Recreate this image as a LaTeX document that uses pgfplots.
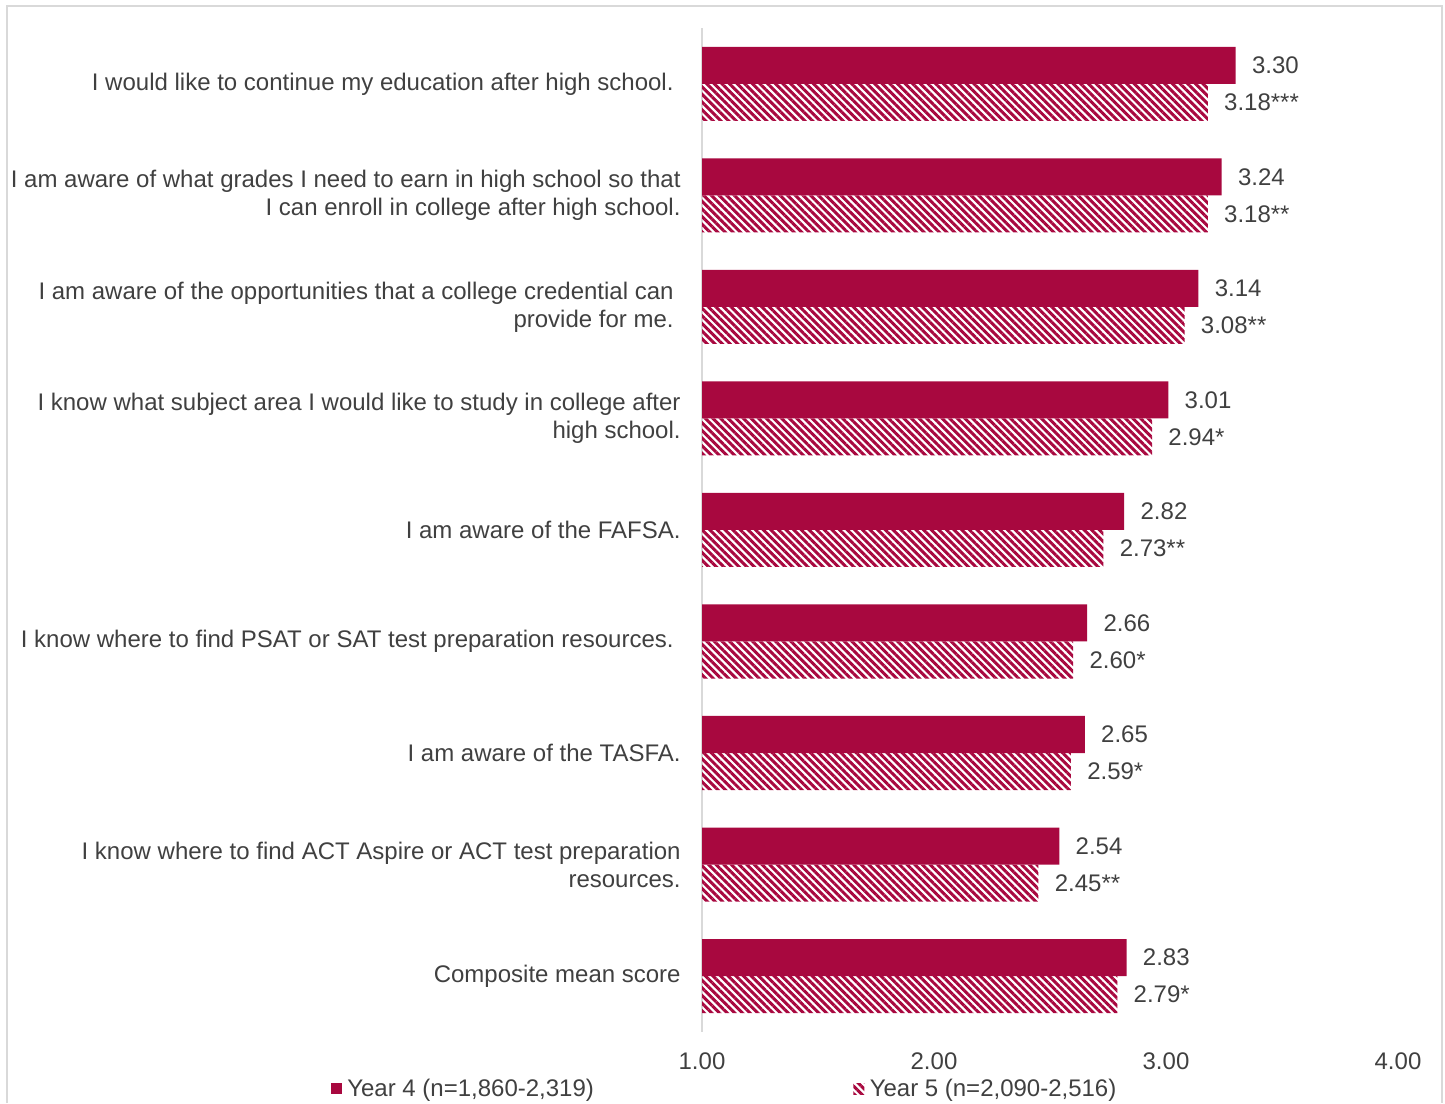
\documentclass[border=0pt]{standalone}
\usepackage{fontspec}
\setmainfont{Liberation Sans}
\usepackage{pgfplots}
\usepackage{pgfplotstable}
\pgfplotsset{compat=1.18}
\usetikzlibrary{patterns.meta}

\definecolor{barred}{HTML}{A8083F}
\definecolor{txtgray}{HTML}{404040}
\definecolor{linegray}{HTML}{D9D9D9}

\pgfplotstableread{
y  v4   l4    v5   l5
8  3.30 3.30  3.18 3.18***
7  3.24 3.24  3.18 3.18**
6  3.14 3.14  3.08 3.08**
5  3.01 3.01  2.94 2.94*
4  2.82 2.82  2.73 2.73**
3  2.66 2.66  2.60 2.60*
2  2.65 2.65  2.59 2.59*
1  2.54 2.54  2.45 2.45**
0  2.83 2.83  2.79 2.79*
}\scores

\begin{document}
\begin{tikzpicture}[font=\fontsize{12}{14}\selectfont]
  % frame of the original figure
  \draw[linegray, line width=1pt] (3.5pt,0pt) -- (3.5pt,548.5pt) -- (721pt,548.5pt) -- (721pt,0pt);
  \begin{axis}[
      at={(351pt,35.625pt)}, anchor=south west,
      scale only axis,
      width=348pt, height=501.75pt,
      xbar, bar width=18.5pt,
      xmin=1, xmax=4, ymin=-0.5, ymax=8.5,
      axis lines*=left,
      x axis line style={draw=none},
      y axis line style={draw=linegray, line width=1pt},
      major tick length=0pt,
      xtick={1,2,3,4},
      xticklabel style={/pgf/number format/fixed, /pgf/number format/fixed zerofill,
        /pgf/number format/precision=2, /pgf/number format/assume math mode=true,
        text=txtgray, yshift=-7pt},
      ytick={0,...,8},
      yticklabels={
        {Composite mean score},
        {I know where to find ACT Aspire or ACT test preparation\\resources.},
        {I am aware of the TASFA.},
        {I know where to find PSAT or SAT test preparation resources.\hspace*{3.5pt}},
        {I am aware of the FAFSA.},
        {I know what subject area I would like to study in college after\\high school.},
        {I am aware of the opportunities that a college credential can\hspace*{3.5pt}\\provide for me.\hspace*{3.5pt}},
        {I am aware of what grades I need to earn in high school so that\\I can enroll in college after high school.},
        {I would like to continue my education after high school.\hspace*{3.5pt}}
      },
      yticklabel style={align=right, text=txtgray, inner sep=0pt, xshift=-10.5pt},
      point meta=explicit symbolic,
      nodes near coords,
      nodes near coords style={anchor=west, inner sep=0pt, xshift=8pt, text=txtgray},
      legend style={draw=none, at={(0.035,-0.057)}, anchor=center,
        legend columns=2, text=txtgray,
        /tikz/every even column/.append style={column sep=127pt},
        nodes={inner ysep=1.5pt, inner xsep=2.7pt}},
      legend image code/.code={\path[#1, draw=none] (0pt,-2.75pt) rectangle (5.5pt,2.75pt);},
    ]
    \addplot[fill=barred, draw=none, bar shift=9.25pt]
      table[x=v4, y=y, meta=l4] {\scores};
    \addlegendentry{Year 4 (n=1,860-2,319)}
    \addplot[draw=none, pattern={Lines[angle=-45, distance=2.7pt, line width=1.5pt]}, pattern color=barred, bar shift=-9.25pt]
      table[x=v5, y=y, meta=l5] {\scores};
    \addlegendentry{Year 5 (n=2,090-2,516)}
  \end{axis}
  \pgfresetboundingbox
  \path[use as bounding box] (0,0) rectangle (722.5pt,551.5pt);
\end{tikzpicture}
\end{document}
